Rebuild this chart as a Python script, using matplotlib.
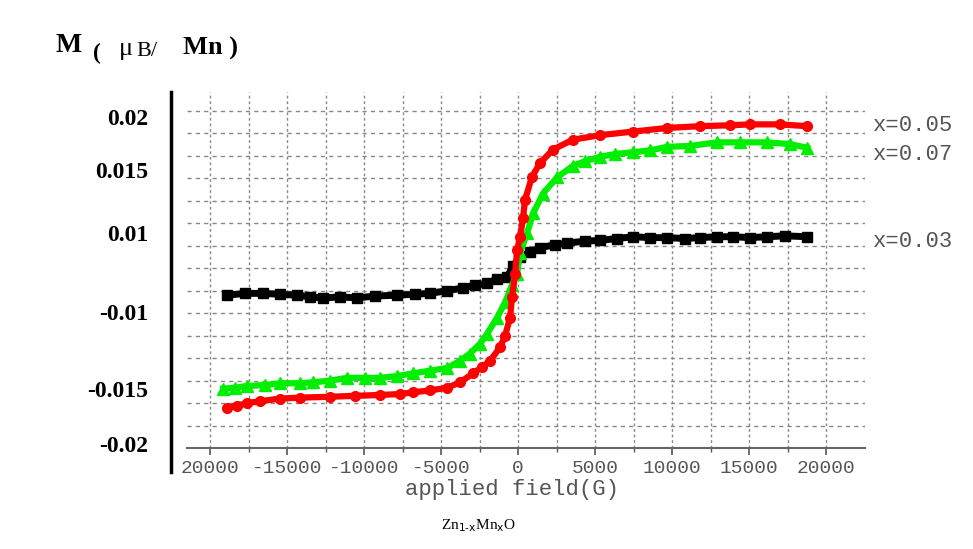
import matplotlib
matplotlib.use("Agg")
import matplotlib.pyplot as plt
from matplotlib.lines import Line2D
import numpy as np

# x = 0.05 (red, circles)
field_05 = [-18900, -18250, -17600, -16750, -15450, -14160, -12200, -10590, -8960,
            -7660, -6820, -5710, -4610, -3770, -2920, -2340, -1820, -1170, -840,
            -520, -390, -190, -65, 130, 325, 450, 910, 1430, 2270, 3570, 5330,
            7470, 9680, 11820, 13770, 15070, 17010, 18770]
m_05 = [-0.0155, -0.0153, -0.0150, -0.0148, -0.0145, -0.0144, -0.0143, -0.0142, -0.0141,
        -0.0140, -0.0138, -0.0136, -0.0133, -0.0127, -0.0117, -0.0110, -0.0103, -0.0088, -0.0075,
        -0.0055, -0.0032, -0.0006, 0.0020, 0.0035, 0.0056, 0.0076, 0.0102, 0.0117, 0.0132, 0.0143, 0.0148,
        0.0152, 0.0156, 0.0158, 0.0159, 0.0160, 0.0160, 0.0158]

# x = 0.07 (green, triangles)
field_07 = [-19160, -18380, -17600, -16430, -15450, -14160, -13310, -12200, -11100,
            -9940, -8960, -7860, -6820, -5710, -4610, -3770, -3120, -2470, -2010,
            -1360, -840, -390, -65, 130, 585, 975, 1620, 2530, 3570, 4350, 5330,
            6300, 7470, 8570, 9680, 11170, 12920, 14420, 16170, 17660, 18770]
m_07 = [-0.0134, -0.0133, -0.0131, -0.0130, -0.0128, -0.0128, -0.0127, -0.0125, -0.0122,
        -0.0122, -0.0122, -0.0120, -0.0117, -0.0114, -0.0111, -0.0103, -0.0095, -0.0084, -0.0073,
        -0.0055, -0.0038, -0.0019, -0.0006, 0.0017, 0.0039, 0.0061, 0.0083, 0.0101, 0.0114, 0.0119, 0.0124,
        0.0127, 0.0129, 0.0131, 0.0135, 0.0136, 0.0140, 0.0140, 0.0140, 0.0138, 0.0134]

# x = 0.03 (black, squares)
field_03 = [-18900, -17730, -16560, -15450, -14350, -13510, -12660, -11560, -10460,
            -9290, -7860, -6690, -5710, -4610, -3570, -2790, -2010, -1360, -710,
            -320, 130, 760, 1430, 2400, 3180, 4350, 5330, 6430, 7470, 8570, 9680,
            10840, 11820, 12920, 13960, 15070, 16170, 17340, 18770]
m_03 = [-0.0030, -0.0028, -0.0028, -0.0029, -0.0030, -0.0032, -0.0033, -0.0032, -0.0033,
        -0.0031, -0.0030, -0.0029, -0.0028, -0.0025, -0.0022, -0.0019, -0.0017, -0.0012, -0.0010,
        0.0003, 0.0012, 0.0018, 0.0023, 0.0026, 0.0028, 0.0030, 0.0031, 0.0033, 0.0035, 0.0034, 0.0034,
        0.0033, 0.0034, 0.0035, 0.0035, 0.0034, 0.0035, 0.0036, 0.0035]

series_labels = ["x=0.05", "x=0.07", "x=0.03"]
label_y = [0.01585, 0.01261, 0.00301]

xtick_pos = [-20000, -15000, -10000, -5000, 0, 5000, 10000, 15000, 20000]
xtick_labels = ["20000", "-15000", "-10000", "-5000", "0", "5000", "10000", "15000", "20000"]

# outer y labels (placed where they sit in the picture, not on a linear scale)
ytick_pos = [0.01685, 0.01094, 0.00391, -0.00491, -0.01339, -0.01953]
ytick_labels = ["0.02", "0.015", "0.01", "-0.01", "-0.015", "-0.02"]

mono = "Liberation Mono"
serif = "Liberation Serif"
gray = "#555555"

fig = plt.figure(figsize=(9.73, 5.49), dpi=100)
ax = fig.add_axes([0.1922, 0.1840, 0.6968, 0.6484])

ax.plot(field_03, m_03, color="black", marker="s", ms=7, lw=5, zorder=3)
ax.plot(field_07, m_07, color="#00ee00", marker="^", ms=8, lw=4.5, zorder=4)
ax.plot(field_05, m_05, color="#ff0000", marker="o", ms=7, lw=4.5, zorder=5)

ax.set_xlim(-21500, 22530)
ax.set_ylim(-0.02, 0.0196)

ax.set_xticks(xtick_pos, xtick_labels, fontfamily=mono, fontsize=14, color=gray)
ax.set_xticks(np.arange(-20000, 20001, 2500), minor=True)
ax.set_yticks(ytick_pos, ytick_labels, fontfamily=serif, fontsize=17, fontweight="bold")
ax.set_yticks(np.arange(-0.0175, 0.0176, 0.0025), minor=True)
ax.tick_params(axis="y", which="both", length=0, pad=28)
ax.tick_params(axis="x", which="major", length=5, width=1.2, color=gray, pad=4)
ax.tick_params(axis="x", which="minor", length=3, width=1, color=gray)

ax.grid(axis="x", which="both", color="#888888", linestyle=(0, (2, 2)), lw=1)
ax.grid(axis="y", which="minor", color="#888888", linestyle=(0, (3, 3)), lw=1)
ax.grid(axis="y", which="major", visible=False)

for s in ["top", "right", "left"]:
    ax.spines[s].set_visible(False)
ax.spines["bottom"].set_color("#666666")
ax.spines["bottom"].set_linewidth(1.5)

# thick black vertical line left of the plot
fig.add_artist(Line2D([0.1757, 0.1757], [0.1403, 0.8324], color="black", lw=2.5,
                      transform=fig.transFigure))

for lab, yy in zip(series_labels, label_y):
    ax.text(23050, yy, lab, fontfamily=mono, fontsize=16, color=gray,
            ha="left", va="center")

fig.text(512 / 973, 1 - 490 / 549, "applied field(G)", fontfamily=mono, fontsize=16,
         color=gray, ha="center", va="center")

fig.text(478 / 973, 1 - 526 / 549, "Zn$_{\\mathrm{1\\text{-}x}}$Mn$_{\\mathrm{x}}$O",
         fontfamily=serif, fontsize=11, ha="center", va="center")

# y label at top left
fig.text(55 / 973, 1 - 46 / 549, "M", fontfamily=serif, fontsize=20,
         fontweight="bold", ha="left", va="center")
fig.text(93 / 973, 1 - 53 / 549, "(", fontfamily=serif, fontsize=17,
         fontweight="bold", ha="left", va="center")
fig.text(119 / 973, 1 - 49 / 549, "μ", fontfamily=serif, fontsize=19,
         ha="left", va="center")
fig.text(136 / 973, 1 - 51 / 549, "B/", fontfamily=serif, fontsize=16,
         ha="left", va="center")
fig.text(183 / 973, 1 - 48 / 549, "Mn )", fontfamily=serif, fontsize=19,
         fontweight="bold", ha="left", va="center")

fig.savefig("out.png", dpi=100, facecolor="white")
